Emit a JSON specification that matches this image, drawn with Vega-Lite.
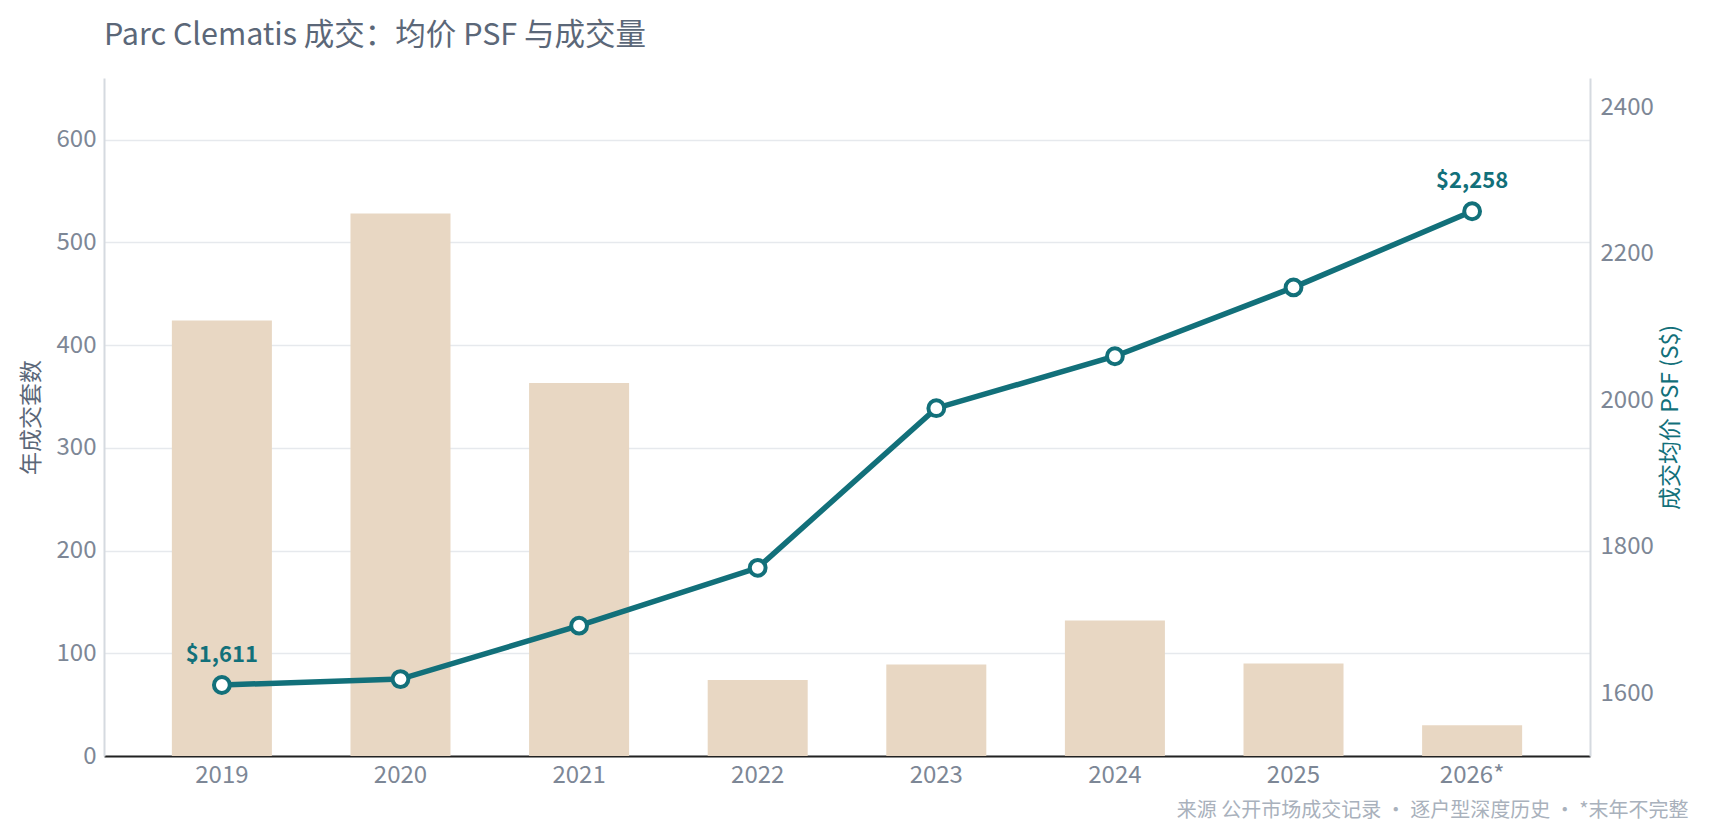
{
  "$schema": "https://vega.github.io/schema/vega-lite/v6.json",
  "width": 1486,
  "height": 678,
  "autosize": "none",
  "padding": {"left": 104, "top": 78, "right": 120, "bottom": 84},
  "background": "#ffffff",
  "config": {"view": {"stroke": null}, "font": "Noto Sans CJK SC"},
  "title": {
    "text": "Parc Clematis 成交：均价 PSF 与成交量",
    "anchor": "start",
    "frame": "group",
    "font": "Noto Sans CJK SC",
    "fontSize": 30.5,
    "fontWeight": "normal",
    "color": "#5b6778",
    "offset": 27
  },
  "data": {
    "values": [
      {"year": "2019", "units": 424, "psf": 1611},
      {"year": "2020", "units": 528, "psf": 1619},
      {"year": "2021", "units": 363, "psf": 1692},
      {"year": "2022", "units": 74, "psf": 1771},
      {"year": "2023", "units": 89, "psf": 1989},
      {"year": "2024", "units": 132, "psf": 2060},
      {"year": "2025", "units": 90, "psf": 2154},
      {"year": "2026*", "units": 30, "psf": 2258}
    ]
  },
  "encoding": {
    "x": {
      "field": "year",
      "type": "ordinal",
      "sort": null,
      "scale": {"paddingInner": 0.44, "paddingOuter": 0.38},
      "axis": {
        "labelAngle": 0,
        "labelColor": "#7d8796",
        "labelFontSize": 24,
        "labelPadding": 7,
        "ticks": false,
        "domainColor": "#222222",
        "domainWidth": 2,
        "grid": false,
        "title": "来源 公开市场成交记录 · 逐户型深度历史 · *末年不完整",
        "titleColor": "#a9b1bc",
        "titleFontSize": 20,
        "titleFontWeight": "normal",
        "titleAnchor": null,
        "titleAlign": "right",
        "titleBaseline": "middle",
        "titleX": 1584,
        "titleY": 54
      }
    }
  },
  "layer": [
    {
      "mark": {"type": "bar", "color": "#e8d7c3"},
      "encoding": {
        "y": {
          "field": "units",
          "type": "quantitative",
          "scale": {"domain": [0, 660], "nice": false},
          "axis": {
            "values": [0, 100, 200, 300, 400, 500, 600],
            "labelColor": "#7d8796",
            "labelFontSize": 24,
            "labelPadding": 8,
            "ticks": false,
            "domainColor": "#d5dae0",
            "domainWidth": 2,
            "gridColor": "#e6e9ed",
            "gridWidth": 1.5,
            "title": "年成交套数",
            "titleColor": "#5b6778",
            "titleFontSize": 23,
            "titleFontWeight": "normal",
            "titlePadding": 13
          }
        }
      }
    },
    {
      "encoding": {
        "y": {
          "field": "psf",
          "type": "quantitative",
          "scale": {"domain": [1514, 2440], "nice": false, "zero": false},
          "axis": {
            "orient": "right",
            "values": [1600, 1800, 2000, 2200, 2400],
            "format": "d",
            "labelColor": "#7d8796",
            "labelFontSize": 24,
            "labelPadding": 10,
            "ticks": false,
            "grid": false,
            "domainColor": "#d5dae0",
            "domainWidth": 2,
            "title": "成交均价 PSF (S$)",
            "titleColor": "#12707a",
            "titleFontSize": 23,
            "titleFontWeight": "normal",
            "titleAngle": -90,
            "titlePadding": 29
          }
        }
      },
      "layer": [
        {"mark": {"type": "line", "color": "#12707a", "strokeWidth": 5.5}},
        {"mark": {"type": "point", "shape": "circle", "filled": true, "fill": "#ffffff", "stroke": "#12707a", "strokeWidth": 4, "size": 250, "opacity": 1}},
        {
          "transform": [{"filter": "datum.year === '2019' || datum.year === '2026*'"}],
          "mark": {"type": "text", "color": "#12707a", "fontSize": 22, "fontWeight": "bold", "dy": -30, "baseline": "middle"},
          "encoding": {"text": {"field": "psf", "type": "quantitative", "format": "$,.0f"}}
        }
      ]
    }
  ],
  "resolve": {"scale": {"y": "independent"}, "axis": {"y": "independent"}}
}
